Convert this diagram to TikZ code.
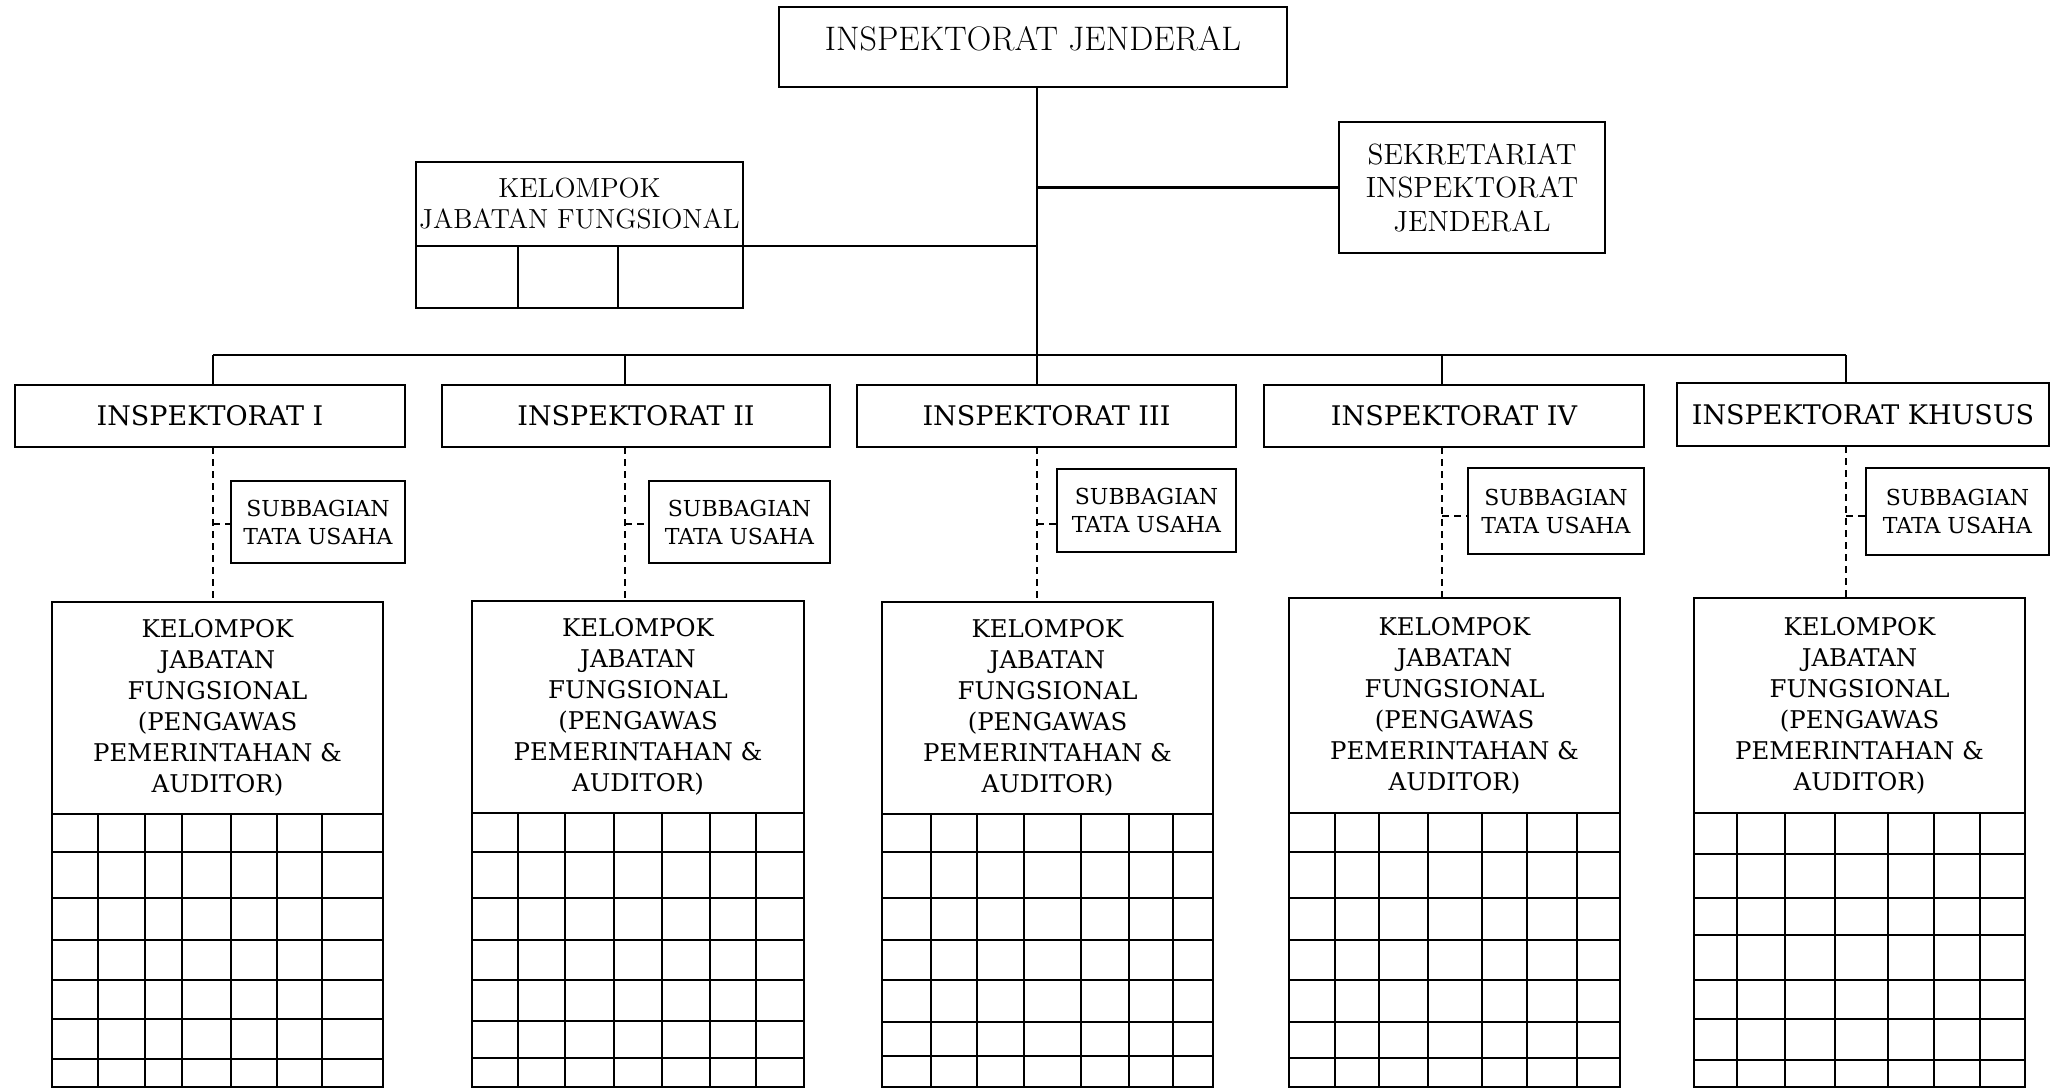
\documentclass[tikz,border=0pt]{standalone}
\usepackage{fontspec}
\newfontfamily\bk{DejaVu Serif}
\usetikzlibrary{calc}
\tikzset{
  box/.style={draw, line width=1.1pt, inner sep=0pt, outer sep=0pt, align=center},
  ln/.style={line width=1.1pt},
  dsh/.style={line width=1.1pt, dash pattern=on 3.5pt off 2.5pt},
  ftitle/.style={font=\fontsize{17}{19}\selectfont},
  fsek/.style={font=\fontsize{14.6}{16.8}\selectfont},
  fkjf/.style={font=\fontsize{13.8}{15.5}\selectfont},
  finsp/.style={font=\bk\fontsize{13.5}{15}\selectfont},
  fsub/.style={font=\bk\fontsize{11}{14}\selectfont},
  fkel/.style={font=\bk\fontsize{12.2}{15.5}\selectfont},
}
\newcommand{\kgrid}[5]{%
  \draw[ln] (#1,#3) -- (#1,1087) -- (#2,1087) -- (#2,#3);
  \foreach \r in {#4} {\draw[ln] (#1,\r) -- (#2,\r);}
  \foreach \c in {#5} {\draw[ln] (\c,#3) -- (\c,1087);}
}
\newcommand{\keltext}{KELOMPOK\\JABATAN\\FUNGSIONAL\\(PENGAWAS\\PEMERINTAHAN \&\\AUDITOR)}
\newcommand{\subtext}{SUBBAGIAN\\TATA USAHA}
\begin{document}
\begin{tikzpicture}[x=0.5pt,y=-0.5pt]
\fill[white] (0,0) rectangle (2060,1088);
\useasboundingbox (0,0) rectangle (2060,1088);

% top level
\node[box, minimum width=254pt, minimum height=40pt,
  label={[ftitle, yshift=4.25pt]center:INSPEKTORAT JENDERAL}] (ij) at (1033,47) {};
\node[box, fsek, minimum width=133pt, minimum height=65.5pt] (sek) at (1472,187.5)
  {SEKRETARIAT\\INSPEKTORAT\\JENDERAL};
\node[box, fkjf, minimum width=163.5pt, minimum height=42pt] (kjf) at (579.5,204)
  {KELOMPOK\\JABATAN FUNGSIONAL};
\draw[ln] (kjf.south west) rectangle ($(kjf.south east)+(0,62)$);
\draw[ln] (518,246) -- (518,308);
\draw[ln] (618,246) -- (618,308);

% bus coordinates
\coordinate (b1) at (213,355);
\coordinate (b2) at (625,355);
\coordinate (b3) at (1037,355);
\coordinate (b4) at (1442,355);
\coordinate (b5) at (1846,355);

% inspektorat boxes
\node[box, finsp, minimum width=195pt, minimum height=31pt] (i1) at (210,416) {INSPEKTORAT I};
\node[box, finsp, minimum width=194pt, minimum height=31pt] (i2) at (636,416) {INSPEKTORAT II};
\node[box, finsp, minimum width=189.5pt, minimum height=31pt] (i3) at (1046.5,416) {INSPEKTORAT III};
\node[box, finsp, minimum width=190pt, minimum height=31pt] (i4) at (1454,416) {INSPEKTORAT IV};
\node[box, finsp, minimum width=186pt, minimum height=31.5pt] (ik) at (1863,414.5) {INSPEKTORAT KHUSUS};

% subbagian boxes
\node[box, fsub, minimum width=87pt, minimum height=41pt] (s1) at (318,522) {\subtext};
\node[box, fsub, minimum width=90.5pt, minimum height=41pt] (s2) at (739.5,522) {\subtext};
\node[box, fsub, minimum width=89.5pt, minimum height=41.5pt] (s3) at (1146.5,510.5) {\subtext};
\node[box, fsub, minimum width=88pt, minimum height=43pt] (s4) at (1556,511) {\subtext};
\node[box, fsub, minimum width=91.5pt, minimum height=43.5pt] (sk) at (1957.5,511.5) {\subtext};

% kelompok boxes
\node[box, fkel, minimum width=165.5pt, minimum height=106pt] (k1) at (217.5,708) {\keltext};
\node[box, fkel, minimum width=166pt, minimum height=106pt] (k2) at (638,707) {\keltext};
\node[box, fkel, minimum width=165.5pt, minimum height=106pt] (k3) at (1047.5,708) {\keltext};
\node[box, fkel, minimum width=165.5pt, minimum height=107.5pt] (k4) at (1454.5,705.5) {\keltext};
\node[box, fkel, minimum width=165.5pt, minimum height=107.5pt] (kk) at (1859.5,705.5) {\keltext};

% grids
\kgrid{52}{383}{814}{852,898,940,980,1019,1059}{98,145,182,231,277,322}
\kgrid{472}{804}{813}{852,898,940,980,1021,1058}{518,565,614,662,710,756}
\kgrid{882}{1213}{814}{852,898,940,980,1022,1056}{931,977,1024,1081,1129,1173}
\kgrid{1289}{1620}{813}{852,898,940,980,1022,1058}{1335,1379,1428,1482,1527,1577}
\kgrid{1694}{2025}{813}{854,898,935,980,1019,1060}{1737,1785,1835,1888,1934,1980}

% solid connectors
\draw[ln] (ij.south -| b3) -- (b3);
\draw[ln] (sek.west) -- (sek.west -| b3);
\draw[ln] (kjf.south east) -- (kjf.south east -| b3);
\draw[ln] (b1) -- (b5);
\draw[ln] (b1) -- (b1 |- i1.north);
\draw[ln] (b2) -- (b2 |- i2.north);
\draw[ln] (b3) -- (b3 |- i3.north);
\draw[ln] (b4) -- (b4 |- i4.north);
\draw[ln] (b5) -- (b5 |- ik.north);

% dashed connectors
\draw[dsh] (b1 |- i1.south) -- (b1 |- k1.north);
\draw[dsh] (b2 |- i2.south) -- (b2 |- k2.north);
\draw[dsh] (b3 |- i3.south) -- (b3 |- k3.north);
\draw[dsh] (b4 |- i4.south) -- (b4 |- k4.north);
\draw[dsh] (b5 |- ik.south) -- (b5 |- kk.north);

\coordinate (a1) at ($(s1.west)+(0,2)$);
\coordinate (a2) at ($(s2.west)+(0,2)$);
\coordinate (a3) at ($(s3.west)+(0,13.5)$);
\coordinate (a4) at ($(s4.west)+(0,5)$);
\coordinate (a5) at ($(sk.west)+(0,4.5)$);
\draw[dsh] (a1 -| b1) -- (a1);
\draw[dsh] (a2 -| b2) -- (a2);
\draw[dsh] (a3 -| b3) -- (a3);
\draw[dsh] (a4 -| b4) -- (a4);
\draw[dsh] (a5 -| b5) -- (a5);
\end{tikzpicture}
\end{document}
